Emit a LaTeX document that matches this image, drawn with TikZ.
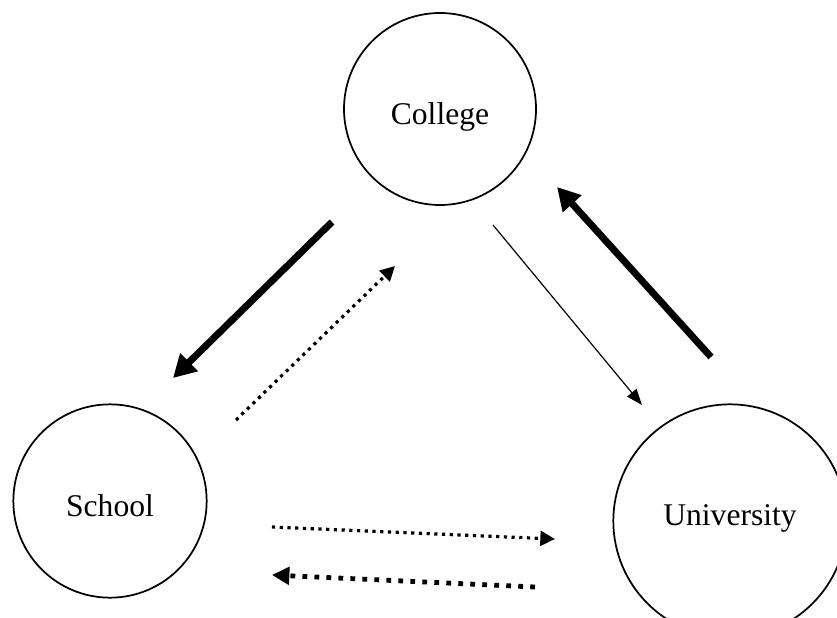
\documentclass[tikz,border=0pt]{standalone}
\usepackage{fontspec}
\setmainfont{Liberation Serif}
\usetikzlibrary{arrows.meta}

\tikzset{every picture/.style={line width=0.75pt}}
\tikzset{
  stage/.style={draw, circle, line width=1.3pt, inner sep=0pt, text height=23pt, text depth=0pt, font=\fontsize{23.7pt}{28pt}\selectfont},
  thickarrow/.style={line width=5.2pt, -{Triangle[length=17pt,width=18pt]}},
  thinarrow/.style={line width=0.9pt, -{Triangle[length=12pt,width=9pt]}},
  dotarrow/.style={line width=2.4pt, dash pattern=on 2.4pt off 3.4pt, -{Triangle[length=11pt,width=11pt]}},
  dasharrow/.style={line width=3.6pt, dash pattern=on 3.6pt off 5.4pt, -{Triangle[length=13pt,width=13pt]}}
}

\begin{document}
\begin{tikzpicture}[x=0.75pt,y=0.75pt,yscale=-1,xscale=1]
	\useasboundingbox (0,0) rectangle (837,617);

	% Circles
	\node [stage, minimum size=144pt] (college) at (440,109) {College};
	\node [stage, minimum size=145pt] (school) at (110,501) {School};
	\node [stage, minimum size=175pt, text height=7pt] (university) at (730,521) {University};

	% Arrow ends
	\coordinate (cs1) at (332,222);
	\coordinate (cs2) at (173,378);
	\coordinate (sc1) at (236,420);
	\coordinate (sc2) at (395,266);
	\coordinate (cu1) at (493,225);
	\coordinate (cu2) at (642,405);
	\coordinate (uc1) at (711,357);
	\coordinate (uc2) at (557,187);
	\coordinate (su1) at (272,527);
	\coordinate (su2) at (555,539);
	\coordinate (us1) at (535,587);
	\coordinate (us2) at (272,575);

	% Arrows
	\draw [thickarrow] (cs1) -- (cs2);
	\draw [dotarrow] (sc1) -- (sc2);
	\draw [thinarrow] (cu1) -- (cu2);
	\draw [thickarrow] (uc1) -- (uc2);
	\draw [dotarrow] (su1) -- (su2);
	\draw [dasharrow] (us1) -- (us2);

\end{tikzpicture}
\end{document}
